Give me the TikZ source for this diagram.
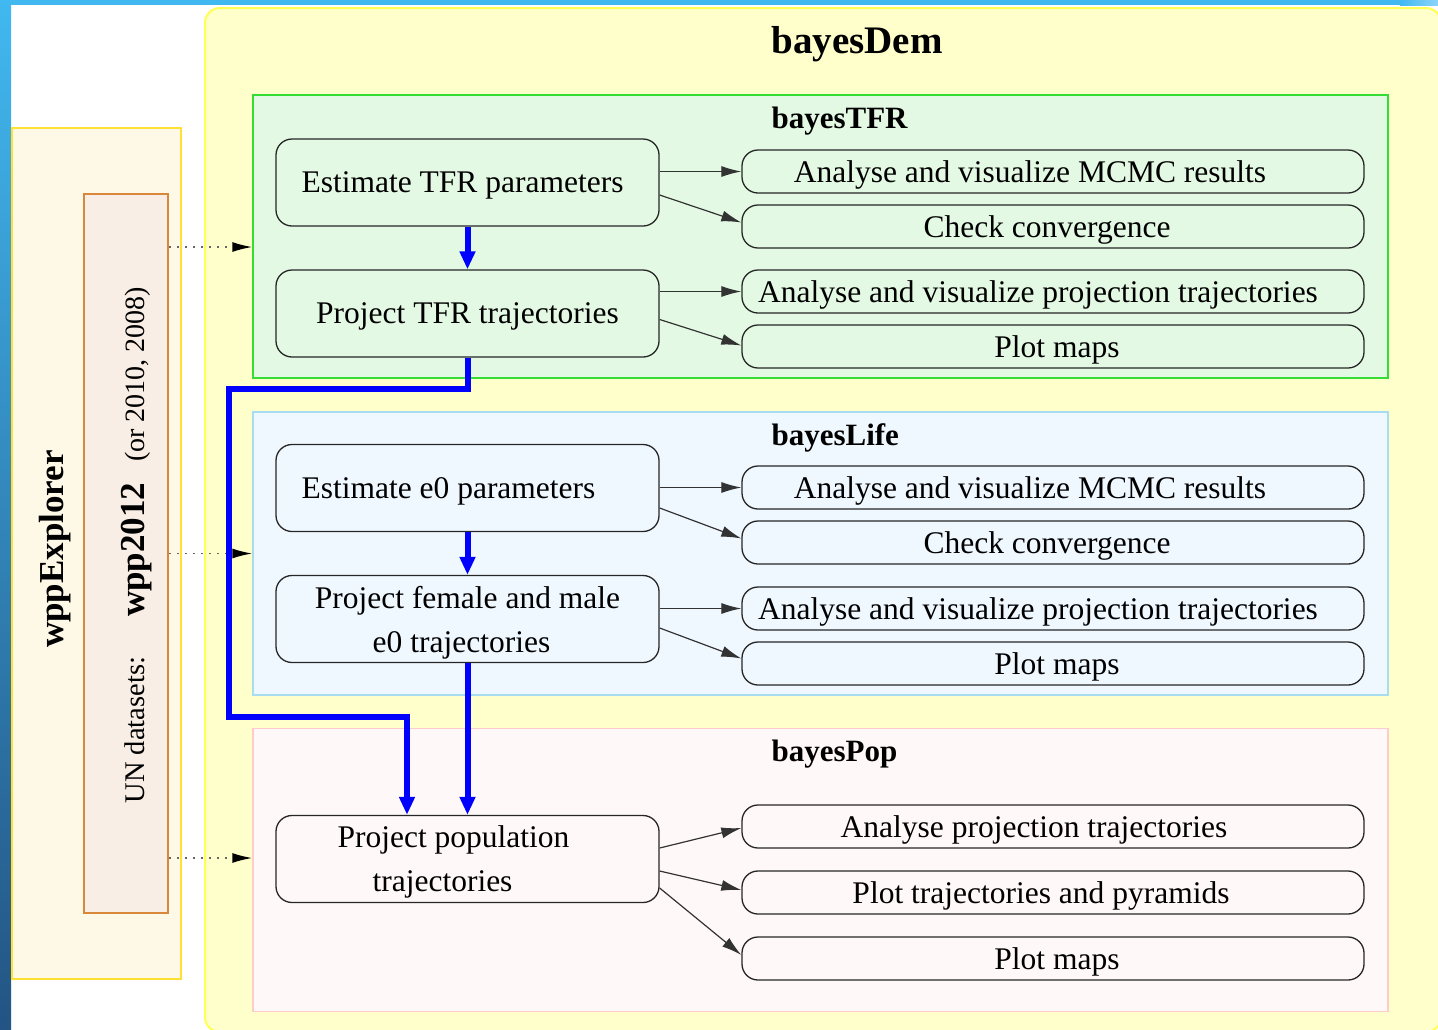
\documentclass[tikz,border=0pt]{standalone}
\usepackage{fontspec}
\setmainfont{Liberation Serif}
\usetikzlibrary{arrows.meta}
\definecolor{topblue}{HTML}{41B8F0}
\definecolor{topblueL}{HTML}{8CD4F8}
\definecolor{botblue}{HTML}{235483}
\definecolor{demfill}{HTML}{FFFFCC}
\definecolor{demdraw}{HTML}{FFFF55}
\definecolor{wppfill}{HTML}{FEF9E7}
\definecolor{wppdraw}{HTML}{FFE033}
\definecolor{unfill}{HTML}{F8EEE5}
\definecolor{undraw}{HTML}{D9873A}
\definecolor{tfrfill}{HTML}{E4F9E4}
\definecolor{tfrdraw}{HTML}{33DD33}
\definecolor{lifefill}{HTML}{F0F8FF}
\definecolor{lifedraw}{HTML}{A8DCF0}
\definecolor{popfill}{HTML}{FFF8F8}
\definecolor{popdraw}{HTML}{FFCCCC}
\newcommand{\mvtext}[1]{\hspace*{#1}}
\tikzset{
  bodyfont/.style={font=\fontsize{31.5}{44}\selectfont},
  leftbox/.style={draw=black!85, line width=1.3pt, rounded corners=16pt,
    minimum width=383pt, minimum height=87pt, inner sep=0pt, align=center, text depth=0pt, bodyfont},
  rightbox/.style={draw=black!85, line width=1.3pt, rounded corners=16pt,
    minimum width=622pt, minimum height=43pt, inner sep=0pt, text depth=0pt, bodyfont},
  pkgbox/.style={line width=1.5pt, minimum width=1135pt, minimum height=283pt, inner sep=0pt},
  pkgtitle/.style={anchor=base west, font=\fontsize{31}{36}\selectfont\bfseries},
  blk/.style={draw=black!80, line width=1.2pt, -{Latex[length=20pt,width=11pt]}},
  blu/.style={draw=blue, line width=6pt, -{Triangle[length=18pt,width=15pt]}},
  dotarr/.style={draw=black!60, line width=1.5pt, dash pattern=on 2pt off 6pt,
    -{Latex[length=20pt,width=10pt,fill=black,color=black]}},
}
\begin{document}
\begin{tikzpicture}[x=1pt,y=-1pt]
\useasboundingbox (0,0) rectangle (1438,1029);
\clip (0,0) rectangle (1438,1029);
\fill[white] (0,0) rectangle (1438,1029);
% frame bands
\shade[top color=topblue, bottom color=botblue] (0,0) rectangle (11,1029);
\fill[topblue] (0,0) rectangle (1400,5);
\shade[left color=topblue, right color=topblueL] (1400,0) rectangle (1438,5);
% wppExplorer
\node[draw=wppdraw, fill=wppfill, line width=1.5pt, minimum width=169pt, minimum height=851pt, inner sep=0pt] (wpp) at (96.5,553.5) {};
\node[draw=undraw, fill=unfill, line width=1.5pt, minimum width=84pt, minimum height=719pt, inner sep=0pt] (un) at (126,553.5) {};
\node[rotate=90, anchor=base, font=\fontsize{35}{40}\selectfont\bfseries] (wpptxt) at (63,549) {wppExplorer};
\node[rotate=90, anchor=base] (untxt) at (144,545) {{\fontsize{28.5}{34}\selectfont UN datasets:}\hspace{40pt}{\fontsize{35}{40}\selectfont\bfseries wpp2012}\hspace{21pt}{\fontsize{28}{34}\selectfont (or 2010, 2008)}};
% bayesDem
\node[draw=demdraw, fill=demfill, line width=2pt, rounded corners=15pt, minimum width=1236pt, minimum height=1024pt, inner sep=0pt] (dem) at (823,520) {};
\node[anchor=base west, font=\fontsize{39}{44}\selectfont\bfseries] (demt) at (768,53) {bayesDem};
% packages
\node[pkgbox, draw=tfrdraw, fill=tfrfill] (tfrbox) at (820.5,236.5) {};
\node[pkgbox, draw=lifedraw, fill=lifefill] (lifebox) at (820.5,553.5) {};
\node[pkgbox, draw=popdraw, fill=popfill] (popbox) at (820.5,870) {};
\node[pkgtitle] (tfrt) at (768,128) {bayesTFR};
\node[pkgtitle] (lifet) at (768,445) {bayesLife};
\node[pkgtitle] (popt) at (768,761) {bayesPop};
% TFR nodes
\node[leftbox] (tfrA) at (467.5,182.5) {\mvtext{-10pt}Estimate TFR parameters};
\node[leftbox] (tfrB) at (467.5,313.5) {Project TFR trajectories};
\node[rightbox] (t1) at (1053,171.5) {\mvtext{-46pt}Analyse and visualize MCMC results};
\node[rightbox] (t2) at (1053,226.5) {\mvtext{-12pt}Check convergence};
\node[rightbox] (t3) at (1053,291.5) {\mvtext{-30pt}Analyse and visualize projection trajectories};
\node[rightbox] (t4) at (1053,346.5) {\mvtext{8pt}Plot maps};
% Life nodes
\node[leftbox] (lifeA) at (467.5,488) {\mvtext{-38pt}Estimate e0 parameters};
\node[leftbox] (lifeB) at (467.5,619) {Project female and male\\\mvtext{-12pt}e0 trajectories};
\node[rightbox] (l1) at (1053,487.5) {\mvtext{-46pt}Analyse and visualize MCMC results};
\node[rightbox] (l2) at (1053,542.5) {\mvtext{-12pt}Check convergence};
\node[rightbox] (l3) at (1053,608.5) {\mvtext{-30pt}Analyse and visualize projection trajectories};
\node[rightbox] (l4) at (1053,663.5) {\mvtext{8pt}Plot maps};
% Pop nodes
\node[leftbox] (popA) at (467.5,859) {\mvtext{-28pt}Project population\\\mvtext{-50pt}trajectories};
\node[rightbox] (p1) at (1053,826.5) {\mvtext{-38pt}Analyse projection trajectories};
\node[rightbox] (p2) at (1053,892.5) {\mvtext{-24pt}Plot trajectories and pyramids};
\node[rightbox] (p3) at (1053,958.5) {\mvtext{8pt}Plot maps};
% black arrows
\draw[blk] (tfrA.east |- t1.west) -- (t1.west);
\draw[blk] ([yshift=-12.5pt]tfrA.east) -- ([yshift=4pt]t2.west);
\draw[blk] (tfrB.east |- t3.west) -- (t3.west);
\draw[blk] ([yshift=-6pt]tfrB.east) -- ([yshift=1pt]t4.west);
\draw[blk] (lifeA.east |- l1.west) -- (l1.west);
\draw[blk] ([yshift=-20pt]lifeA.east) -- ([yshift=4pt]l2.west);
\draw[blk] (lifeB.east |- l3.west) -- (l3.west);
\draw[blk] ([yshift=-9pt]lifeB.east) -- ([yshift=5pt]l4.west);
\draw[blk] ([yshift=11pt]popA.east) -- ([yshift=-1.5pt]p1.west);
\draw[blk] ([yshift=-12pt]popA.east) -- ([yshift=2.5pt]p2.west);
\draw[blk] ([yshift=-29pt]popA.east) -- ([yshift=3.5pt]p3.west);
% dotted arrows
\coordinate (ta) at ([yshift=-10.5pt]tfrbox.west);
\coordinate (la) at (lifebox.west);
\coordinate (pa) at ([yshift=12pt]popbox.west);
\draw[dotarr] (un.east |- ta) -- (ta);
\draw[dotarr] (un.east |- la) -- (la);
\draw[dotarr] (un.east |- pa) -- (pa);
% blue arrows
\coordinate (c1) at (229,389);
\coordinate (c2) at (407,717);
\draw[blu] (tfrA.south) -- (tfrB.north);
\draw[blu] (lifeA.south) -- (lifeB.north);
\draw[blu] (lifeB.south) -- (popA.north);
\draw[blu] (tfrB.south) |- (c1) |- (c2) -- (c2 |- popA.north);
\end{tikzpicture}
\end{document}
